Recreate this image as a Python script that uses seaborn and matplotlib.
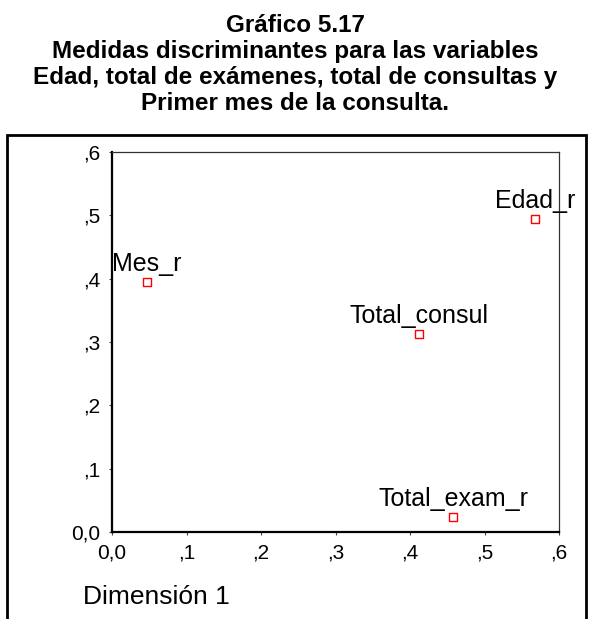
import matplotlib
matplotlib.use("Agg")
import matplotlib.pyplot as plt
import seaborn as sns
import pandas as pd
from matplotlib.patches import Rectangle

variables = ["Edad_r", "Total_exam_r", "Total_consul", "Mes_r"]
dim1 = [0.568, 0.458, 0.412, 0.047]
dim2 = [0.494, 0.024, 0.313, 0.395]
tick_values = [0.0, 0.1, 0.2, 0.3, 0.4, 0.5, 0.6]
tick_labels = ["0,0", ",1", ",2", ",3", ",4", ",5", ",6"]
title = ("Gráfico 5.17\nMedidas discriminantes para las variables\n"
         "Edad, total de exámenes, total de consultas y\nPrimer mes de la consulta.")
xlabel = "Dimensión 1"

sns.set_style("white")
plt.rcParams["font.family"] = ["Liberation Sans", "DejaVu Sans"]
plt.rcParams["text.color"] = "black"
plt.rcParams["xtick.color"] = "black"
plt.rcParams["ytick.color"] = "black"
plt.rcParams["axes.labelcolor"] = "black"

df = pd.DataFrame({"var": variables, "d1": dim1, "d2": dim2})

fig = plt.figure(figsize=(5.9, 6.19), dpi=100)
ax = fig.add_axes([112/590, 1-532/619, (559-112)/590, (532-152)/619])

sns.scatterplot(data=df, x="d1", y="d2", ax=ax, marker="s", s=30,
                facecolor="none", edgecolor="#ff0000", linewidth=1.0, zorder=3)

for name, x, y in zip(df["var"], df["d1"], df["d2"]):
    ax.annotate(name, (x, y), xytext=(0, 8), textcoords="offset points",
                ha="center", va="baseline", fontsize=18, color="black")

ax.set_xlim(0, 0.6)
ax.set_ylim(0, 0.6)
ax.set_xticks(tick_values)
ax.set_xticklabels(tick_labels, fontsize=15, color="black")
ax.set_yticks(tick_values)
ax.set_yticklabels(tick_labels, fontsize=15, color="black")
ax.set_xlabel("")
ax.set_ylabel("")
ax.tick_params(axis="both", direction="out", length=2.5, width=0.8, color="#444444",
               labelcolor="black", pad=6, bottom=True, left=True)

for side in ["left", "bottom"]:
    ax.spines[side].set_color("black")
    ax.spines[side].set_linewidth(1.6)
for side in ["top", "right"]:
    ax.spines[side].set_color("#333333")
    ax.spines[side].set_linewidth(0.9)

fig.text(0.5, 1-64.5/619, title, ha="center", va="center", fontsize=17.5,
         fontweight="bold", linespacing=1.17, color="black")
fig.text(83/590, 1-597/619, xlabel, ha="left", va="center", fontsize=19,
         color="black")

frame = Rectangle((7/590, -0.05), (586-7)/590, (619-135)/619 + 0.05,
                  transform=fig.transFigure, fill=False, edgecolor="black",
                  linewidth=2.0, clip_on=False)
fig.patches.append(frame)

fig.savefig("out.png", dpi=100)
